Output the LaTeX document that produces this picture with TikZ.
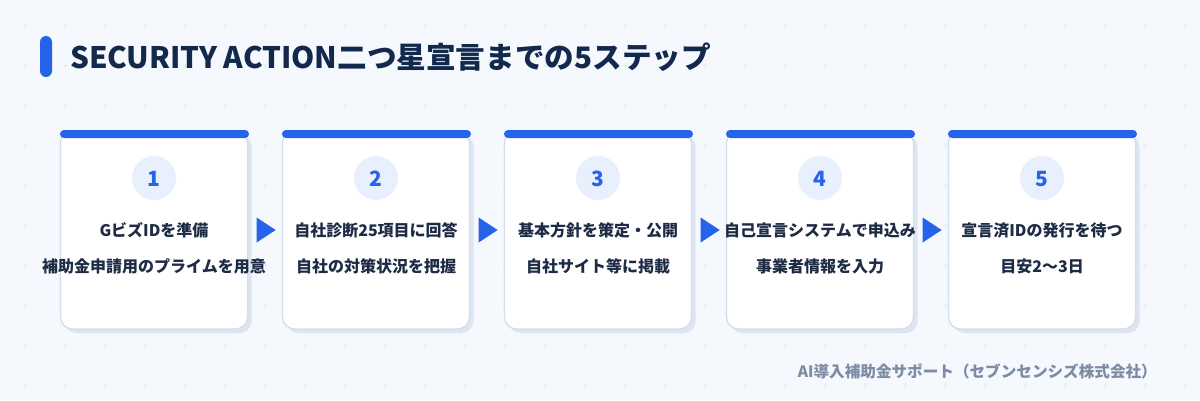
\documentclass[tikz,border=0pt]{standalone}
\usepackage{fontspec}
\newfontfamily\jp{Noto Sans CJK JP}
\usetikzlibrary{positioning,calc}
\definecolor{bgpale}{HTML}{F5F8FC}
\definecolor{gridmark}{HTML}{E2E8F2}
\definecolor{accent}{HTML}{2563EB}
\definecolor{titleink}{HTML}{12284C}
\definecolor{inkdark}{HTML}{1E2B45}
\definecolor{discfill}{HTML}{E8F0FD}
\definecolor{cardline}{HTML}{D3DEEC}
\definecolor{cardshadow}{HTML}{DCE5F1}
\definecolor{footink}{HTML}{7D8BA5}

\begin{document}
\begin{tikzpicture}[x=1pt,y=-1pt,
		every node/.style={font=\jp\bfseries, text=inkdark},
		stepcard/.style={draw=cardline, line width=1.3pt, fill=white, rounded corners=12pt,
			minimum width=187pt, minimum height=198pt, inner sep=0pt},
		topbar/.style={fill=accent, rounded corners=4pt, minimum width=189pt, minimum height=8pt, inner sep=0pt},
		numdisc/.style={circle, fill=discfill, minimum size=44pt, inner sep=0pt},
		numtext/.style={anchor=base, inner sep=0pt, text=accent, font=\jp\bfseries\fontsize{21}{21}\selectfont},
		steptext/.style={anchor=base, inner sep=0pt, font=\jp\bfseries\fontsize{16}{16}\selectfont}]
	% background and dotted grid
	\fill[bgpale] (0,0) rectangle (1200,400);
	\useasboundingbox (0,0) rectangle (1200,400);
	\foreach \gx in {25,65,...,1185}
		\foreach \gy in {25,65,...,385}
			\draw[gridmark, line width=0.6pt] (\gx-2,\gy) -- (\gx+2,\gy) (\gx,\gy-2) -- (\gx,\gy+2);

	% title
	\node[fill=accent, rounded corners=6pt, minimum width=12pt, minimum height=41pt, inner sep=0pt] (mark) at (46,56.5) {};
	\node[anchor=base west, inner sep=0pt, text=titleink, font=\jp\bfseries\fontsize{29.6}{30}\selectfont] (title) at (70,68.5)
		{SECURITY ACTION二つ星宣言までの5ステップ};

	% steps
	\foreach \i/\la/\lb in {1/{GビズIDを準備}/{補助金申請用のプライムを用意},
			2/{自社診断25項目に回答}/{自社の対策状況を把握},
			3/{基本方針を策定・公開}/{自社サイト等に掲載},
			4/{自己宣言システムで申込み}/{事業者情報を入力},
			5/{宣言済IDの発行を待つ}/{目安2〜3日}} {
		\pgfmathsetmacro\cx{154+222*(\i-1)}
		\node[stepcard, draw=none, fill=cardshadow] (shade\i) at (\cx+4,234) {};
		\node[stepcard] (card\i) at (\cx,230) {};
		\node[topbar] (bar\i) at (\cx+0.5,134) {};
		\node[numdisc] (disc\i) at (\cx,178) {};
		\node[numtext] (num\i) at (\cx,186.5) {\i};
		\node[steptext] (head\i) at (\cx,236.5) {\la};
		\node[steptext] (note\i) at (\cx,272.5) {\lb};
	}

	% arrows between steps
	\foreach \i in {1,...,4}
		\fill[accent] ($(card\i.east)+(8.5,-12.5)$) -- ++(19,12.5) -- ++(-19,12.5) -- cycle;

	% footer
	\node[anchor=base east, inner sep=0pt, text=footink, font=\jp\bfseries\fontsize{15.6}{16}\selectfont] (credit) at (1157,377)
		{AI導入補助金サポート（セブンセンシズ株式会社）};
\end{tikzpicture}
\end{document}
